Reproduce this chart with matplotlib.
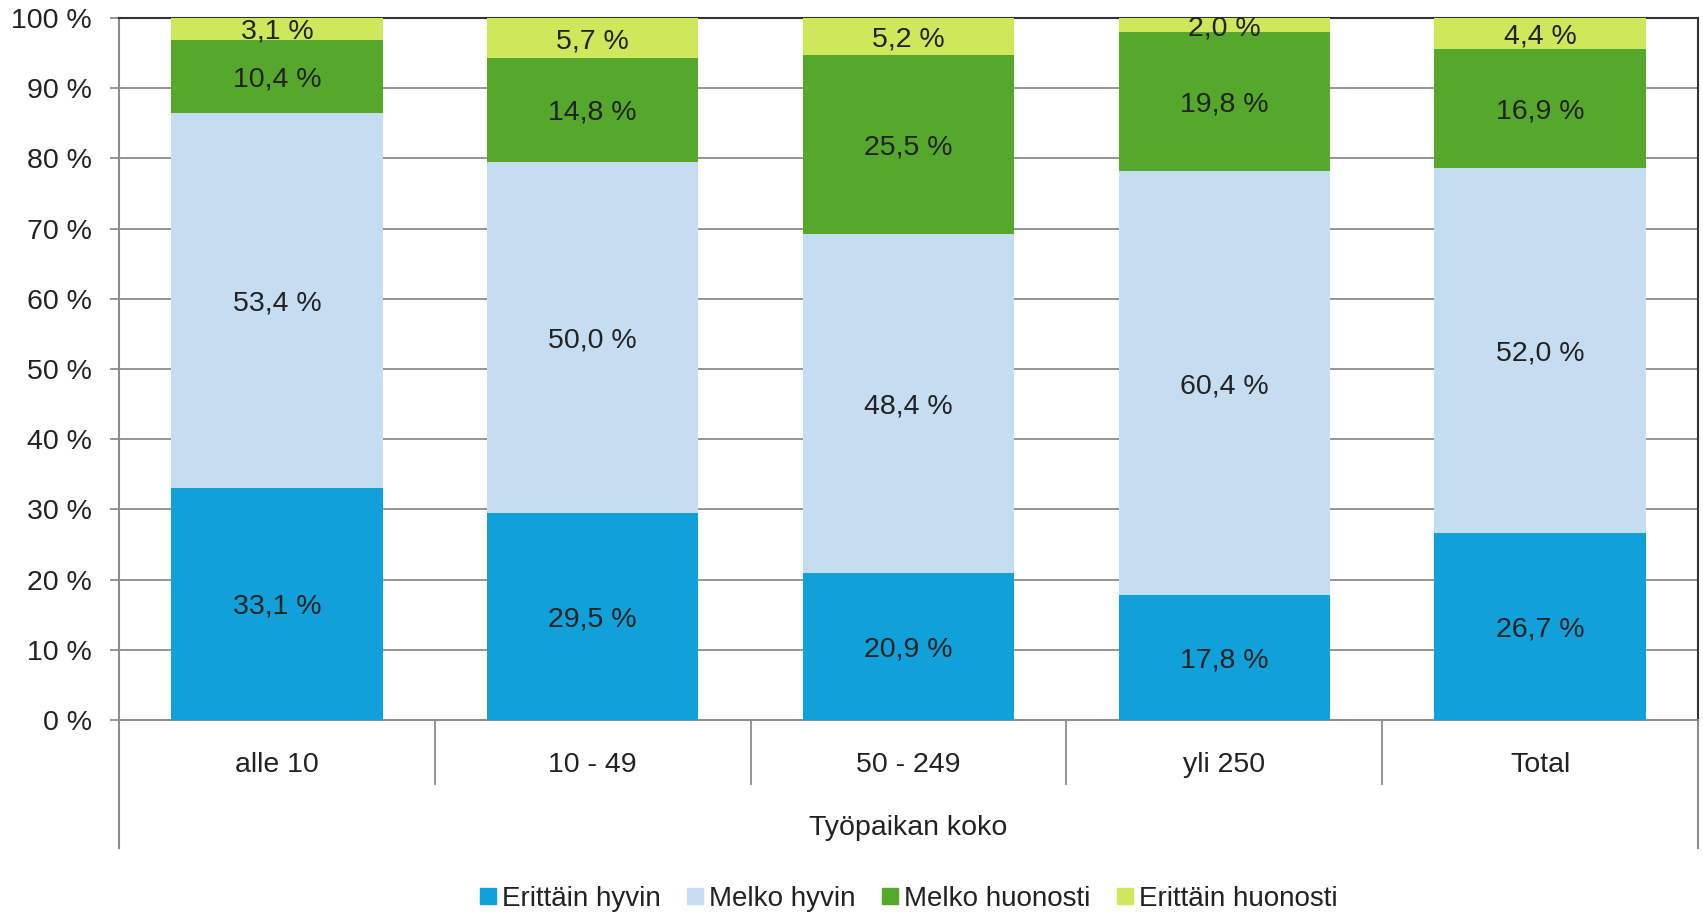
import numpy as np
import matplotlib
matplotlib.use("Agg")
import matplotlib.pyplot as plt
from matplotlib.lines import Line2D

plt.rcParams['font.family'] = ['Liberation Sans', 'DejaVu Sans']

# data (percent)
categories = ["alle 10", "10 - 49", "50 - 249", "yli 250", "Total"]
series_names = ["Erittäin hyvin", "Melko hyvin", "Melko huonosti", "Erittäin huonosti"]
erittain_hyvin = [33.1, 29.5, 20.9, 17.8, 26.7]
melko_hyvin = [53.4, 50.0, 48.4, 60.4, 52.0]
melko_huonosti = [10.4, 14.8, 25.5, 19.8, 16.9]
erittain_huonosti = [3.1, 5.7, 5.2, 2.0, 4.4]
colors = ["#10A0DA", "#C5DDF1", "#56A82C", "#CDE85A"]
outer_label = "Työpaikan koko"
y_ticks = [0, 10, 20, 30, 40, 50, 60, 70, 80, 90, 100]

W, H = 1703, 913
fig = plt.figure(figsize=(W / 100, H / 100), dpi=100)
left, right, top, bottom = 119, 1698, 18, 720
ax = fig.add_axes([left / W, 1 - bottom / H, (right - left) / W, (bottom - top) / H])

x = np.arange(len(categories))
txt_col = "#222222"
fs = 20.5
grid_col = "#8C8C8C"

base = np.zeros(len(categories))
for name, vals, col in zip(series_names,
                           [erittain_hyvin, melko_hyvin, melko_huonosti, erittain_huonosti],
                           colors):
    vals = np.array(vals)
    ax.bar(x, vals, 0.67, bottom=base, color=col, zorder=3, label=name)
    for xi, b, v in zip(x, base, vals):
        ax.text(xi, b + v / 2, f"{v:.1f} %".replace(".", ","), ha="center", va="center_baseline",
                fontsize=fs, color=txt_col, zorder=4, clip_on=False)
    base = base + vals

ax.set_xlim(-0.5, len(categories) - 0.5)
ax.set_ylim(0, 100)
ax.set_yticks(y_ticks)
ax.set_yticklabels([f"{t} %" for t in y_ticks], fontsize=fs, color=txt_col)
ax.tick_params(axis="y", length=6.5, width=1.3, color=grid_col, pad=13)
ax.set_xticks([])
ax.yaxis.grid(True, color=grid_col, linewidth=1.3, zorder=0)
ax.set_axisbelow(True)

for s in ["top", "right"]:
    ax.spines[s].set_color("#333333")
    ax.spines[s].set_linewidth(1.5)
ax.spines["left"].set_color(grid_col)
ax.spines["left"].set_linewidth(1.5)
ax.spines["bottom"].set_color(grid_col)
ax.spines["bottom"].set_linewidth(1.5)

# multi-level category axis below the plot
tr = ax.get_xaxis_transform()
ax_h = bottom - top
sep_y = -64 / ax_h
end_y = -128 / ax_h
for k in range(1, len(categories)):
    ax.plot([k - 0.5, k - 0.5], [0, sep_y], color=grid_col, lw=1.3, transform=tr, clip_on=False)
ax.plot([-0.5, -0.5], [0, end_y], color=grid_col, lw=1.5, transform=tr, clip_on=False)
ax.plot([len(categories) - 0.5] * 2, [0, end_y], color=grid_col, lw=1.5, transform=tr, clip_on=False)
for xi, c in zip(x, categories):
    ax.text(xi, -45 / ax_h, c, transform=tr, ha="center", va="center", fontsize=fs, color=txt_col)
ax.text((len(categories) - 1) / 2, -108 / ax_h, outer_label, transform=tr, ha="center",
        va="center", fontsize=fs, color=txt_col)

handles = [Line2D([], [], marker="s", linestyle="none", markersize=12, color=c) for c in colors]
fig.legend(handles, series_names, loc="center", bbox_to_anchor=(908 / W, 1 - 899 / H), ncol=4,
           frameon=False, fontsize=20, handlelength=0.7, handletextpad=0.15, columnspacing=0.9,
           labelcolor=txt_col)

fig.savefig("out.png", dpi=100)
